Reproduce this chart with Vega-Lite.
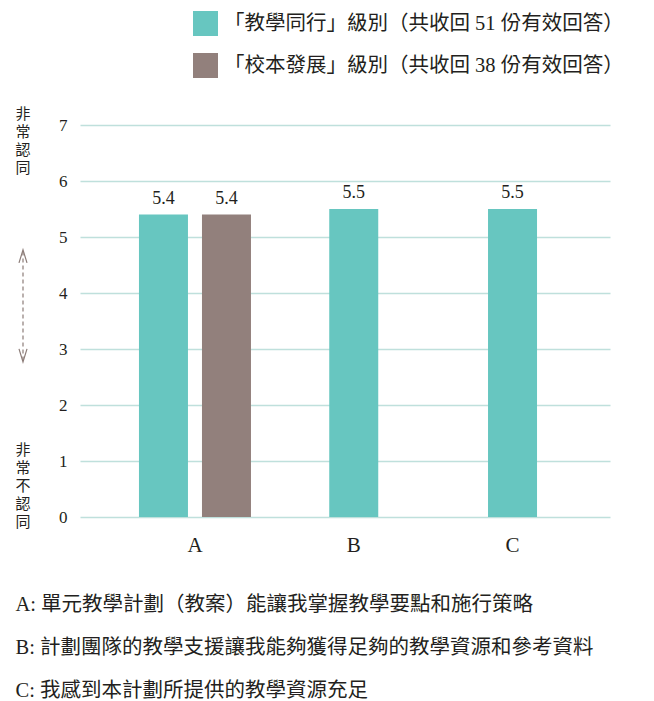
{
  "$schema": "https://vega.github.io/schema/vega-lite/v6.json",
  "width": 530,
  "height": 392,
  "autosize": {"type": "none"},
  "padding": {"left": 80, "top": 125, "right": 44, "bottom": 184},
  "background": "white",
  "config": {
    "view": {"stroke": null},
    "font": "Liberation Serif, Noto Sans CJK TC",
    "text": {"font": "Liberation Serif, Noto Sans CJK TC", "color": "#231f20"}
  },
  "title": {
    "text": [
      "A: 單元教學計劃（教案）能讓我掌握教學要點和施行策略",
      "B: 計劃團隊的教學支援讓我能夠獲得足夠的教學資源和參考資料",
      "C: 我感到本計劃所提供的教學資源充足"
    ],
    "orient": "bottom",
    "anchor": "start",
    "frame": "bounds",
    "font": "Liberation Serif, Noto Sans CJK TC",
    "fontSize": 20.5,
    "fontWeight": "normal",
    "color": "#231f20",
    "lineHeight": 43,
    "offset": 40
  },
  "datasets": {
    "scores": [
      {"item": "A", "group": "「教學同行」級別（共收回 51 份有效回答）", "score": 5.4},
      {"item": "A", "group": "「校本發展」級別（共收回 38 份有效回答）", "score": 5.4},
      {"item": "B", "group": "「教學同行」級別（共收回 51 份有效回答）", "score": 5.5},
      {"item": "C", "group": "「教學同行」級別（共收回 51 份有效回答）", "score": 5.5}
    ]
  },
  "layer": [
    {
      "data": {"name": "scores"},
      "transform": [{"filter": "datum.item === 'A'"}],
      "encoding": {
        "x": {
          "field": "item",
          "type": "nominal",
          "scale": {"domain": ["A", "B", "C"], "paddingInner": 0, "paddingOuter": 0.169, "align": 0.663},
          "axis": {
            "title": null,
            "labelAngle": 0,
            "domain": false,
            "ticks": false,
            "labelPadding": 17,
            "labelFont": "Liberation Serif",
            "labelFontSize": 21,
            "labelColor": "#231f20"
          }
        },
        "xOffset": {
          "field": "group",
          "type": "nominal",
          "scale": {
            "domain": ["「教學同行」級別（共收回 51 份有效回答）", "「校本發展」級別（共收回 38 份有效回答）"],
            "paddingInner": 0,
            "paddingOuter": 0.26
          }
        },
        "y": {
          "field": "score",
          "type": "quantitative",
          "scale": {"domain": [0, 7], "nice": false},
          "axis": {
            "title": null,
            "values": [0, 1, 2, 3, 4, 5, 6, 7],
            "format": "d",
            "grid": true,
            "gridColor": "#bfe0dc",
            "gridWidth": 1.5,
            "domain": false,
            "ticks": false,
            "labelPadding": 13,
            "labelFont": "Liberation Serif",
            "labelFontSize": 17,
            "labelColor": "#231f20"
          }
        }
      },
      "layer": [
        {
          "mark": {"type": "bar", "width": 49},
          "encoding": {
            "color": {
              "field": "group",
              "type": "nominal",
              "scale": {
                "domain": ["「教學同行」級別（共收回 51 份有效回答）", "「校本發展」級別（共收回 38 份有效回答）"],
                "range": ["#67c6c0", "#92807c"]
              },
              "legend": {
                "title": null,
                "orient": "none",
                "legendX": 113,
                "legendY": -114,
                "direction": "vertical",
                "symbolType": "square",
                "symbolSize": 625,
                "symbolStrokeWidth": 0,
                "symbolOpacity": 1,
                "rowPadding": 17,
                "padding": 0,
                "labelOffset": 6,
                "labelFont": "Liberation Serif, Noto Sans CJK TC",
                "labelFontSize": 20.5,
                "labelColor": "#231f20",
                "labelLimit": 600
              }
            }
          }
        },
        {
          "mark": {"type": "text", "baseline": "alphabetic", "dy": -11, "fontSize": 18},
          "encoding": {"text": {"field": "score", "type": "quantitative", "format": ".1f"}}
        }
      ]
    },
    {
      "data": {"name": "scores"},
      "transform": [{"filter": "datum.item !== 'A'"}],
      "encoding": {
        "x": {"field": "item", "type": "nominal"},
        "y": {"field": "score", "type": "quantitative"}
      },
      "layer": [
        {
          "mark": {"type": "bar", "width": 49},
          "encoding": {"color": {"field": "group", "type": "nominal"}}
        },
        {
          "mark": {"type": "text", "baseline": "alphabetic", "dy": -11, "fontSize": 18},
          "encoding": {"text": {"field": "score", "type": "quantitative", "format": ".1f"}}
        }
      ]
    },
    {
      "data": {"values": [
        {"label": "非\n常\n認\n同", "level": 7.33},
        {"label": "非\n常\n不\n認\n同", "level": 1.33}
      ]},
      "mark": {
        "type": "text",
        "lineBreak": "\n",
        "fontSize": 15,
        "lineHeight": 18,
        "baseline": "top",
        "align": "center",
        "font": "Noto Sans CJK TC",
        "color": "#231f20"
      },
      "encoding": {
        "x": {"value": -57},
        "y": {"field": "level", "type": "quantitative"},
        "text": {"field": "label"}
      }
    },
    {
      "data": {"values": [{"from": 4.74, "to": 2.8}]},
      "mark": {"type": "rule", "stroke": "#8c7c78", "strokeWidth": 1.2, "strokeDash": [4, 3]},
      "encoding": {
        "x": {"value": -57},
        "y": {"field": "from", "type": "quantitative"},
        "y2": {"field": "to"}
      }
    },
    {
      "data": {"values": [
        {"end": "top", "level": 4.77},
        {"end": "bottom", "level": 2.77}
      ]},
      "mark": {"type": "point", "filled": false, "stroke": "#8c7c78", "strokeWidth": 1.2, "size": 400, "opacity": 1},
      "encoding": {
        "x": {"value": -57},
        "y": {"field": "level", "type": "quantitative"},
        "shape": {
          "field": "end",
          "type": "nominal",
          "scale": {"domain": ["top", "bottom"], "range": ["M-0.4,1.3L0,0L0.4,1.3", "M-0.4,-1.3L0,0L0.4,-1.3"]},
          "legend": null
        }
      }
    }
  ]
}
